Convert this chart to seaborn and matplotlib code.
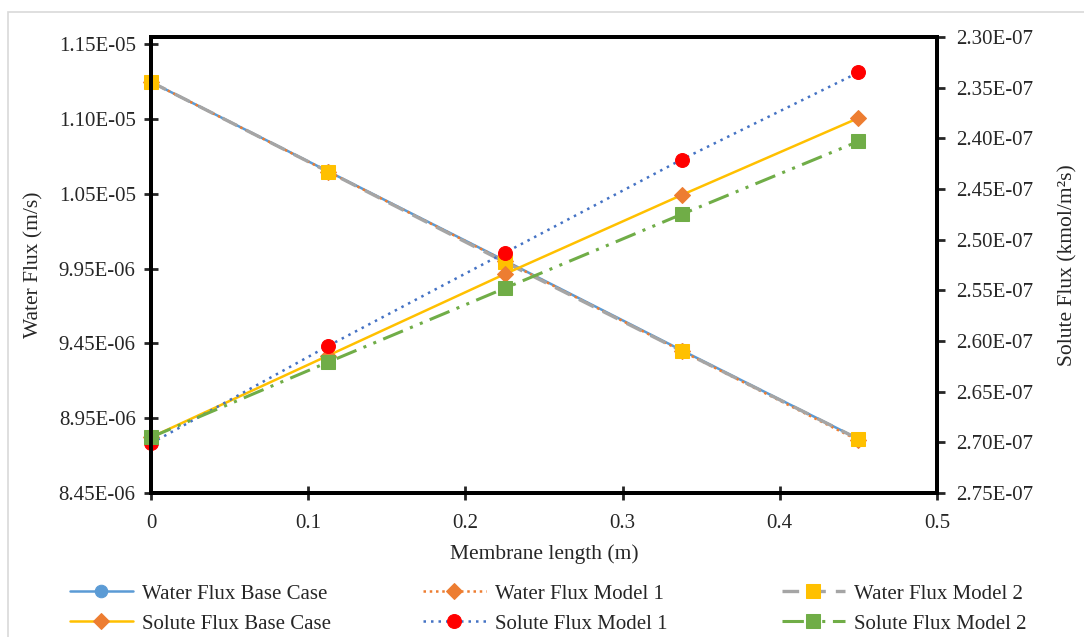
import numpy as np
import matplotlib
matplotlib.use("Agg")
import matplotlib.pyplot as plt
import seaborn as sns
from matplotlib.patches import Rectangle

# Membrane positions (m)
length = [0, 0.1125, 0.225, 0.3375, 0.45]

# Water flux (m/s) - left axis
water_base = [1.1199e-05, 1.0602e-05, 1.0005e-05, 9.405e-06, 8.812e-06]
water_m1 = [1.1199e-05, 1.0600e-05, 1.0002e-05, 9.400e-06, 8.802e-06]
water_m2 = [1.1199e-05, 1.0600e-05, 9.995e-06, 9.400e-06, 8.811e-06]

# Solute flux (kmol/m2s) - right axis (inverted)
solute_base = [2.695e-07, 2.6145e-07, 2.534e-07, 2.456e-07, 2.380e-07]
solute_m1 = [2.701e-07, 2.605e-07, 2.513e-07, 2.421e-07, 2.335e-07]
solute_m2 = [2.695e-07, 2.621e-07, 2.548e-07, 2.475e-07, 2.403e-07]

left_ticks = [8.45e-06 + k * 5e-07 for k in range(7)]
left_labels = ["8.45E-06", "8.95E-06", "9.45E-06", "9.95E-06", "1.05E-05", "1.10E-05", "1.15E-05"]
right_ticks = [2.30e-07 + k * 5e-09 for k in range(10)]
x_ticks = [0, 0.1, 0.2, 0.3, 0.4, 0.5]
x_labels = ["0", "0.1", "0.2", "0.3", "0.4", "0.5"]

sns.set_style("white")
plt.rcParams["font.family"] = ["Liberation Serif", "DejaVu Serif"]
FS = 15

fig = plt.figure(figsize=(10.84, 6.37), dpi=100)
ax = fig.add_axes([151 / 1084, 1 - 493 / 637, (937 - 151) / 1084, (493 - 37) / 637])
ax2 = ax.twinx()

# outer chart border
fig.patches.append(Rectangle((8 / 1084, -0.05), 1.1, 1 - 12 / 637 + 0.05,
                             transform=fig.transFigure, fill=False,
                             edgecolor="#d9d9d9", linewidth=1.2, zorder=0))

lw = 1.8
ms = 9
dashdotdot = (0, (7, 2.5, 1, 2.5, 1, 2.5))

sns.lineplot(x=length, y=water_base, ax=ax, color="#5B9BD5", linewidth=lw,
             marker="o", markersize=ms, markeredgecolor="#5B9BD5", label="Water Flux Base Case")
sns.lineplot(x=length, y=water_m1, ax=ax, color="#ED7D31", linewidth=lw, linestyle=(0, (1, 1.5)),
             marker="D", markersize=ms - 1, markeredgecolor="#ED7D31", label="Water Flux Model 1")
sns.lineplot(x=length, y=water_m2, ax=ax, color="#A5A5A5", linewidth=lw + 0.6, linestyle=(0, (5, 3)),
             marker="s", markersize=ms + 1, markerfacecolor="#FFC000", markeredgecolor="#FFC000",
             label="Water Flux Model 2")

sns.lineplot(x=length, y=solute_base, ax=ax2, color="#FFC000", linewidth=lw,
             marker="D", markersize=ms - 1, markerfacecolor="#ED7D31", markeredgecolor="#ED7D31",
             label="Solute Flux Base Case")
sns.lineplot(x=length, y=solute_m1, ax=ax2, color="#4472C4", linewidth=lw, linestyle=(0, (1, 2)),
             marker="o", markersize=ms + 1, markerfacecolor="#FF0000", markeredgecolor="#FF0000",
             label="Solute Flux Model 1")
sns.lineplot(x=length, y=solute_m2, ax=ax2, color="#70AD47", linewidth=lw + 0.4, linestyle=dashdotdot,
             marker="s", markersize=ms + 1, markerfacecolor="#70AD47", markeredgecolor="#70AD47",
             label="Solute Flux Model 2")

for a in (ax, ax2):
    for ln in a.get_lines():
        ln.set_clip_on(False)

h1, l1 = ax.get_legend_handles_labels()
h2, l2 = ax2.get_legend_handles_labels()
ax.get_legend().remove()
ax2.get_legend().remove()

ax.set_xlim(0, 0.5)
ax.set_ylim(8.45e-06, 1.15e-05)
ax.set_yticks(left_ticks)
ax.set_yticklabels(left_labels)
ax.set_xticks(x_ticks)
ax.set_xticklabels(x_labels)
ax2.set_ylim(2.75e-07, 2.30e-07)
ax2.set_yticks(right_ticks)
ax2.set_yticklabels([f"{v:.2E}" for v in right_ticks])

for a in (ax, ax2):
    for s in a.spines.values():
        s.set_linewidth(2.8)
        s.set_color("black")
    a.grid(False)

ax.tick_params(axis="y", direction="inout", length=10, width=2, labelsize=FS, pad=6, left=True)
ax.tick_params(axis="x", direction="inout", length=10, width=2, labelsize=FS, pad=10, bottom=True)
ax2.tick_params(axis="y", direction="out", length=6, width=2, labelsize=FS, pad=8, right=True)

ax.set_xlabel("Membrane length (m)", fontsize=FS + 0.5, labelpad=8)
ax.set_ylabel("Water Flux (m/s)", fontsize=FS + 0.5, labelpad=11)
ax2.set_ylabel("Solute Flux (kmol/m²s)", fontsize=FS + 0.5, labelpad=18)

# legend: three columns, water on top row, solute below
col_x = [66 / 1084, 419 / 1084, 778 / 1084]
for i in range(3):
    fig.legend([h1[i], h2[i]], [l1[i], l2[i]], loc="upper left",
               bbox_to_anchor=(col_x[i], 1 - 580 / 637), frameon=False,
               fontsize=FS, handlelength=3.0, handletextpad=0.45,
               labelspacing=0.5, borderaxespad=0, borderpad=0.2)

fig.savefig("out.png", dpi=100)
